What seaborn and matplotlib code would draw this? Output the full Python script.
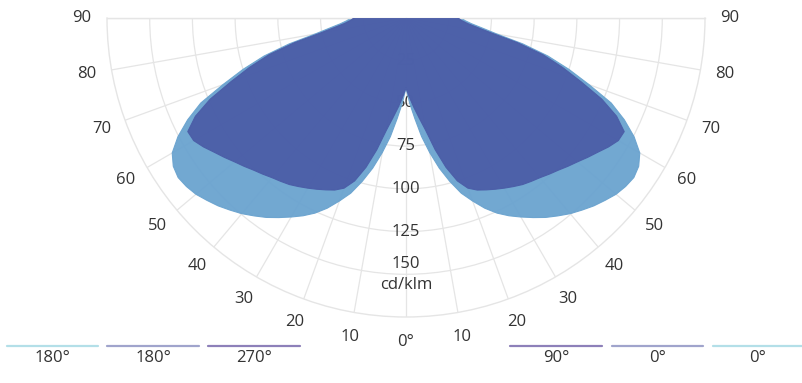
import numpy as np
import pandas as pd
import matplotlib
matplotlib.use("Agg")
import matplotlib.pyplot as plt
from matplotlib.lines import Line2D
import seaborn as sns

# ---- data ----
gamma = [0, 2.5, 5, 7.5, 10, 12.5, 15, 17.5, 20, 22.5, 25, 27.5, 30, 32.5, 35, 37.5, 40,
         42.5, 45, 47.5, 50, 52.5, 55, 57.5, 60, 62.5, 65, 67.5, 70, 72.5, 75, 77.5,
         80, 82.5, 85, 87.5, 90]
r_light = [41, 50, 59, 70, 80, 90, 99, 107.5, 114, 120.5, 126, 130.5, 134.5, 138.5, 142.5, 146, 149.5,
           152.5, 155.5, 158, 160.5, 162, 162.8, 161.5, 158, 150.5, 141, 130, 114, 100, 86, 70,
           54, 45, 38.5, 34.5, 32.5]
r_dark = [41, 46.5, 52.5, 59, 67, 79, 90.5, 100, 106, 109, 111, 113, 115, 117, 119, 120.5, 122,
          124, 126, 128.5, 131, 134, 137, 140.5, 143.5, 144, 136, 124, 109, 96, 83, 67,
          51, 42, 36, 32.5, 30.5]

angle_ticks = [90, 80, 70, 60, 50, 40, 30, 20, 10, 0]
angle_labels = ["90", "80", "70", "60", "50", "40", "30", "20", "10", "0°"]
radial_ticks = [25, 50, 75, 100, 125, 150]
radial_labels = ["25", "50", "75", "100", "125", "150\ncd/klm"]
r_max = 175

legend_labels = ["180°", "180°", "270°", "90°", "0°", "0°"]
legend_colors = ["#b3dfe8", "#a0a4cc", "#8d80b9", "#8d80b9", "#a0a4cc", "#b3dfe8"]
legend_x = [(7, 98), (107, 199), (208, 300), (510, 602), (612, 703), (713, 803)]

light_color = "#6aa3cf"
dark_color = "#4b5da7"

# ---- build mirrored curves ----
theta_full = [-g for g in gamma[::-1]] + gamma[1:]
light_full = r_light[::-1] + r_light[1:]
dark_full = r_dark[::-1] + r_dark[1:]
df = pd.DataFrame({
    "theta": np.radians(theta_full * 2),
    "r": light_full + dark_full,
    "series": ["light"] * len(theta_full) + ["dark"] * len(theta_full),
})

sns.set_theme(style="white")
plt.rcParams["font.family"] = ["Open Sans", "DejaVu Sans"]

W, H = 803, 383
fig = plt.figure(figsize=(W / 100, H / 100), dpi=100)
cx, cy, R = 406, 18, 299
# square axes box; the half-disc wedge is centred vertically inside it
S = 2 * R
mid_y = cy + R / 2
ax = fig.add_axes([(cx - R) / W, (H - (mid_y + R)) / H, S / W, S / H], projection="polar")
ax.set_theta_zero_location("S")
ax.set_thetamin(-90)
ax.set_thetamax(90)
ax.set_rlim(0, r_max)
ax.set_xticks(np.radians(np.arange(-90, 91, 10)))
ax.set_xticklabels([])
ax.set_yticks(radial_ticks)
ax.set_yticklabels([])
ax.tick_params(length=0)
ax.grid(True, color="#e5e5e5", lw=0.9)
for sp in ax.spines.values():
    sp.set_color("#e5e5e5")
    sp.set_linewidth(1.0)
ax.set_facecolor("white")

txt = "#333333"
fs = 12
for v, lab in zip(radial_ticks, radial_labels):
    ax.text(0, v, lab, ha="center", va="center", fontsize=fs, color=txt,
            zorder=1.5, linespacing=1.4)

for g, lab in zip(angle_ticks, angle_labels):
    ax.text(np.radians(-g), r_max * 324 / R, lab, ha="center", va="center",
            fontsize=fs, color=txt, clip_on=False)
    if g != 0:
        ax.text(np.radians(g), r_max * 324 / R, lab, ha="center", va="center",
                fontsize=fs, color=txt, clip_on=False)

for name, col, z in [("light", light_color, 2), ("dark", dark_color, 3)]:
    sub = df[df.series == name]
    ax.fill(sub.theta, sub.r, color=col, alpha=0.95, lw=0, zorder=z)
    sns.lineplot(data=sub, x="theta", y="r", ax=ax, sort=False, color=col,
                 lw=0.8, alpha=0.95, zorder=z, estimator=None, legend=False)
ax.set_xlabel("")
ax.set_ylabel("")

# legend
for (x0, x1), col, lab in zip(legend_x, legend_colors, legend_labels):
    fig.add_artist(Line2D([x0 / W, x1 / W], [(H - 346) / H] * 2, color=col, lw=1.6))
    fig.text((x0 + x1) / 2 / W, (H - 358) / H, lab, ha="center", va="center",
             fontsize=fs, color=txt)

fig.savefig("out.png", dpi=100)
